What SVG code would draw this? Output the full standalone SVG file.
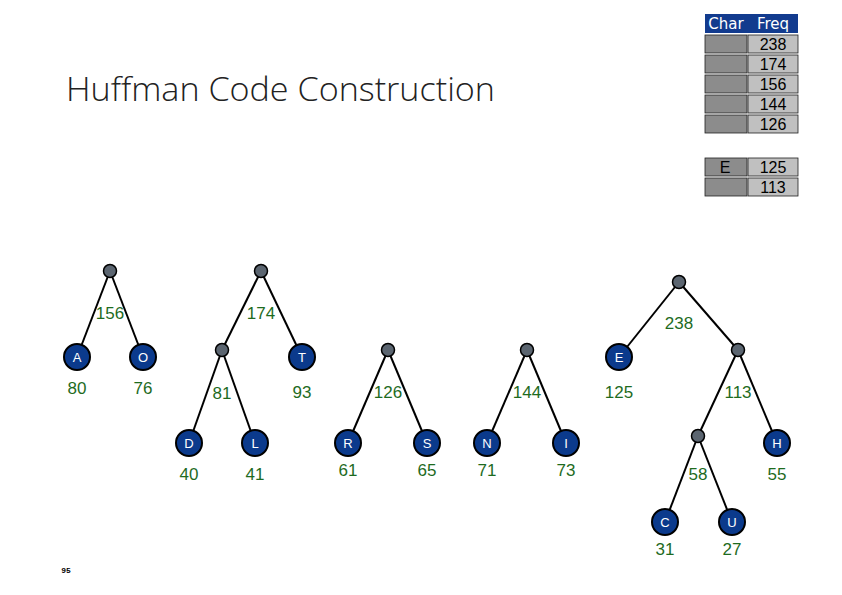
<svg xmlns="http://www.w3.org/2000/svg" width="842" height="595" viewBox="0 0 842 595">
<style>
.edge{stroke:#000;stroke-width:2;fill:none}
.leaf{fill:#0b3a8c;stroke:#000;stroke-width:2}
.inner{fill:#5b6570;stroke:#000;stroke-width:1.5}
.lt{fill:#fff;font-family:"Liberation Sans",Arial,sans-serif;font-size:13px;text-anchor:middle}
.num{fill:#1e6b1e;font-family:"Liberation Sans",Arial,sans-serif;font-size:17px;text-anchor:middle}
.cc{fill:#8c8c8c;stroke:#222;stroke-width:0.8}
.fc{fill:#c0c0c0;stroke:#222;stroke-width:0.8}
.tt{fill:#000;font-family:"Liberation Sans",Arial,sans-serif;font-size:16px;text-anchor:middle}
.th{fill:#fff;font-family:"DejaVu Sans",sans-serif;font-size:15px;text-anchor:middle}
</style>
<rect width="842" height="595" fill="#fff"/>
<text x="66" y="101" font-family="Open Sans, Liberation Sans, sans-serif" font-weight="300" font-size="33" fill="#222" textLength="429" lengthAdjust="spacingAndGlyphs">Huffman Code Construction</text>
<g id="table">
<rect x="705" y="14" width="93" height="19" fill="#123b8e"/>
<text class="th" x="726" y="29">Char</text>
<text class="th" x="773" y="29">Freq</text>
<rect class="cc" x="705" y="35" width="42" height="18"/><rect class="fc" x="748" y="35" width="50" height="18"/><text class="tt" x="773" y="50">238</text>
<rect class="cc" x="705" y="55" width="42" height="18"/><rect class="fc" x="748" y="55" width="50" height="18"/><text class="tt" x="773" y="70">174</text>
<rect class="cc" x="705" y="75" width="42" height="18"/><rect class="fc" x="748" y="75" width="50" height="18"/><text class="tt" x="773" y="90">156</text>
<rect class="cc" x="705" y="95" width="42" height="18"/><rect class="fc" x="748" y="95" width="50" height="18"/><text class="tt" x="773" y="110">144</text>
<rect class="cc" x="705" y="115" width="42" height="18"/><rect class="fc" x="748" y="115" width="50" height="18"/><text class="tt" x="773" y="130">126</text>
<rect class="cc" x="705" y="158" width="42" height="18"/><rect class="fc" x="748" y="158" width="50" height="18"/><text class="tt" x="725" y="173">E</text><text class="tt" x="773" y="173">125</text>
<rect class="cc" x="705" y="178" width="42" height="18"/><rect class="fc" x="748" y="178" width="50" height="18"/><text class="tt" x="773" y="193">113</text>
</g>
<g id="connectors">
<line class="edge" x1="110" y1="271" x2="77" y2="357"/>
<line class="edge" x1="110" y1="271" x2="143" y2="357"/>
<line class="edge" x1="261" y1="271" x2="222" y2="350"/>
<line class="edge" x1="261" y1="271" x2="302" y2="357"/>
<line class="edge" x1="222" y1="350" x2="189" y2="443"/>
<line class="edge" x1="222" y1="350" x2="255" y2="443"/>
<line class="edge" x1="388" y1="350" x2="348" y2="443"/>
<line class="edge" x1="388" y1="350" x2="427" y2="443"/>
<line class="edge" x1="527" y1="350" x2="487" y2="443"/>
<line class="edge" x1="527" y1="350" x2="566" y2="443"/>
<line class="edge" x1="679" y1="282" x2="619" y2="357"/>
<line class="edge" x1="679" y1="282" x2="738" y2="350"/>
<line class="edge" x1="738" y1="350" x2="698" y2="436"/>
<line class="edge" x1="738" y1="350" x2="777" y2="443"/>
<line class="edge" x1="698" y1="436" x2="665" y2="522"/>
<line class="edge" x1="698" y1="436" x2="732" y2="522"/>
</g>
<g id="n156"><circle class="inner" cx="110" cy="271" r="6.5"/><text class="num" x="110" y="319">156</text></g>
<g id="n174"><circle class="inner" cx="261" cy="271" r="6.5"/><text class="num" x="261" y="319">174</text></g>
<g id="n81"><circle class="inner" cx="222" cy="350" r="6.5"/><text class="num" x="222" y="399">81</text></g>
<g id="n126"><circle class="inner" cx="388" cy="350" r="6.5"/><text class="num" x="388" y="398">126</text></g>
<g id="n144"><circle class="inner" cx="527" cy="350" r="6.5"/><text class="num" x="527" y="398">144</text></g>
<g id="n238"><circle class="inner" cx="679" cy="282" r="6.5"/><text class="num" x="679" y="329">238</text></g>
<g id="n113"><circle class="inner" cx="738" cy="350" r="6.5"/><text class="num" x="738" y="398">113</text></g>
<g id="n58"><circle class="inner" cx="698" cy="436" r="6.5"/><text class="num" x="698" y="480">58</text></g>
<g id="A"><circle class="leaf" cx="77" cy="357" r="13"/><text class="lt" x="77" y="362">A</text><text class="num" x="77" y="394">80</text></g>
<g id="O"><circle class="leaf" cx="143" cy="357" r="13"/><text class="lt" x="143" y="362">O</text><text class="num" x="143" y="394">76</text></g>
<g id="T"><circle class="leaf" cx="302" cy="357" r="13"/><text class="lt" x="302" y="362">T</text><text class="num" x="302" y="398">93</text></g>
<g id="D"><circle class="leaf" cx="189" cy="443" r="13"/><text class="lt" x="189" y="448">D</text><text class="num" x="189" y="480">40</text></g>
<g id="L"><circle class="leaf" cx="255" cy="443" r="13"/><text class="lt" x="255" y="448">L</text><text class="num" x="255" y="480">41</text></g>
<g id="R"><circle class="leaf" cx="348" cy="443" r="13"/><text class="lt" x="348" y="448">R</text><text class="num" x="348" y="476">61</text></g>
<g id="S"><circle class="leaf" cx="427" cy="443" r="13"/><text class="lt" x="427" y="448">S</text><text class="num" x="427" y="476">65</text></g>
<g id="N"><circle class="leaf" cx="487" cy="443" r="13"/><text class="lt" x="487" y="448">N</text><text class="num" x="487" y="476">71</text></g>
<g id="I"><circle class="leaf" cx="566" cy="443" r="13"/><text class="lt" x="566" y="448">I</text><text class="num" x="566" y="476">73</text></g>
<g id="E"><circle class="leaf" cx="619" cy="357" r="13"/><text class="lt" x="619" y="362">E</text><text class="num" x="619" y="398">125</text></g>
<g id="H"><circle class="leaf" cx="777" cy="443" r="13"/><text class="lt" x="777" y="448">H</text><text class="num" x="777" y="480">55</text></g>
<g id="C"><circle class="leaf" cx="665" cy="522" r="13"/><text class="lt" x="665" y="527">C</text><text class="num" x="665" y="555">31</text></g>
<g id="U"><circle class="leaf" cx="732" cy="522" r="13"/><text class="lt" x="732" y="527">U</text><text class="num" x="732" y="555">27</text></g>
<text x="66" y="573" font-family="Liberation Mono, monospace" font-size="8" font-weight="bold" fill="#000" text-anchor="middle">95</text>
</svg>
